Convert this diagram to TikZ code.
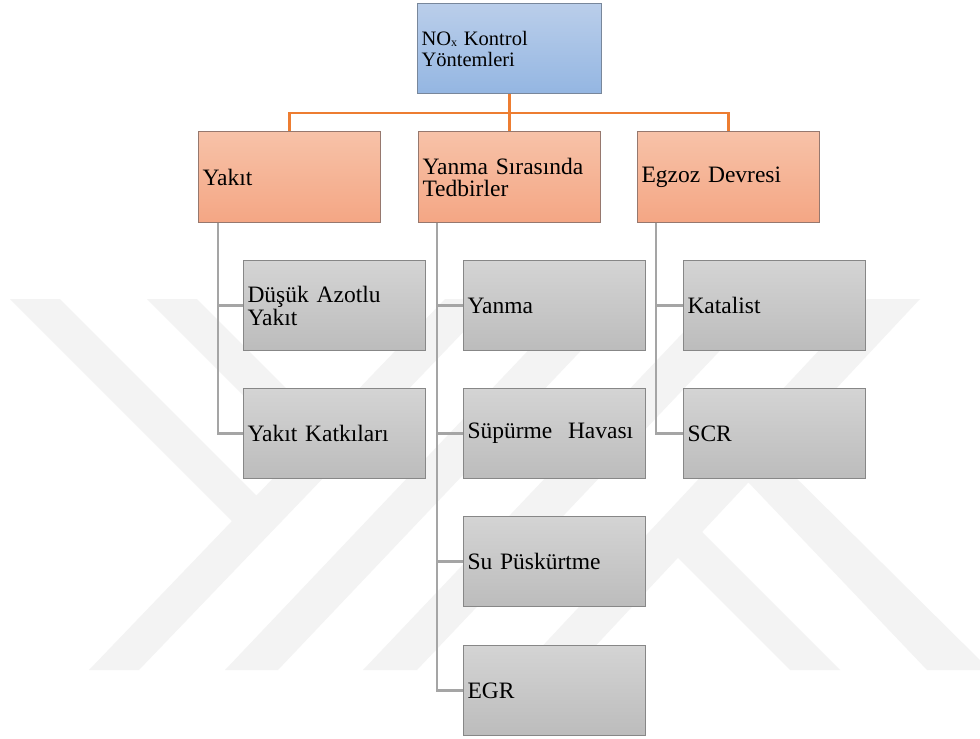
\documentclass[tikz,border=0pt]{standalone}
\usepackage{fontspec}
\setmainfont{Liberation Serif}
\usetikzlibrary{calc}
\definecolor{wm}{RGB}{243,243,243}
\definecolor{bluetop}{RGB}{186,206,234}
\definecolor{bluebot}{RGB}{148,182,226}
\definecolor{bluedraw}{RGB}{120,135,155}
\definecolor{ortop}{RGB}{247,194,168}
\definecolor{orbot}{RGB}{244,166,132}
\definecolor{ordraw}{RGB}{150,120,110}
\definecolor{grtop}{RGB}{212,212,212}
\definecolor{grbot}{RGB}{188,188,188}
\definecolor{grdraw}{RGB}{135,135,135}
\definecolor{orlinecol}{RGB}{237,125,49}
\definecolor{gylinecol}{RGB}{165,165,165}
\tikzset{
  box/.style={draw, line width=1pt, minimum height=90pt, inner xsep=4pt, inner ysep=0pt,
    text width=174pt, align=left, anchor=north west},
  rootbox/.style={box, text width=176pt, top color=bluetop, bottom color=bluebot, draw=bluedraw,
    font=\fontsize{20.5}{21}\selectfont},
  midbox/.style={box, minimum height=91pt, top color=ortop, bottom color=orbot, draw=ordraw,
    font=\fontsize{23.5}{22}\selectfont},
  leafbox/.style={box, top color=grtop, bottom color=grbot, draw=grdraw,
    font=\fontsize{23.5}{23}\selectfont},
  orl/.style={draw=orlinecol, line width=2.6pt},
  gyl/.style={draw=gylinecol, line width=2.6pt},
  wmark/.style={fill=wm, draw=none}
}
\newcommand{\subx}{\raisebox{-1.5pt}{\fontsize{12}{12}\selectfont x}}
\begin{document}
\begin{tikzpicture}[x=1pt,y=-1pt]
\useasboundingbox (0,0) rectangle (980,739);
\fill[white] (0,0) rectangle (980,739);
% watermark
\begin{scope}
\clip (0,0) rectangle (980,739);
\path[wmark] (10,299) -- (60,299) -- (282,521) -- (232,521) -- cycle;
\path[wmark] (147,299) -- (197,299) -- (349,451) -- (299,451) -- cycle;
\path[wmark] (89,670) -- (139,670) -- (495,299) -- (445,299) -- cycle;
\path[wmark] (225,670) -- (278,670) -- (630,299) -- (577,299) -- cycle;
\path[wmark] (363,670) -- (417,670) -- (769,299) -- (715,299) -- cycle;
\path[wmark] (520,670) -- (573,670) -- (920,299) -- (867,299) -- cycle;
\path[wmark] (790,670) -- (840,670) -- (702,532) -- (650,530) -- cycle;
\path[wmark] (927,670) -- (990,670) -- (774,456) -- (748,482) -- cycle;
\end{scope}
% nodes
\node[rootbox] (root) at (417,3) {NO\subx{} Kontrol\\Yöntemleri};
\node[midbox] (yakit) at (198,131) {Yakıt};
\node[midbox] (yanma) at (418,131) {Yanma Sırasında\\Tedbirler};
\node[midbox] (egzoz) at (637,131) {Egzoz Devresi};
\node[leafbox] (dusuk) at (243,260) {Düşük Azotlu\\Yakıt};
\node[leafbox] (katki) at (243,388) {Yakıt Katkıları};
\node[leafbox] (yanmaL) at (463,260) {Yanma};
\node[leafbox] (supurme) at (463,388) {Süpürme\ \ Havası};
\node[leafbox] (su) at (463,516) {Su Püskürtme};
\node[leafbox] (egr) at (463,645) {EGR};
\node[leafbox] (katalist) at (683,260) {Katalist};
\node[leafbox] (scr) at (683,388) {SCR};
% orange connectors
\draw[orl] (root.south) -- ++(0,19) -| (yakit.north);
\draw[orl] (root.south) -- (yanma.north);
\draw[orl] (root.south) -- ++(0,19) -| (egzoz.north);
% gray connectors
\coordinate (c1) at ($(yakit.south west)+(20,0)$);
\coordinate (c2) at ($(yanma.south west)+(19,0)$);
\coordinate (c3) at ($(egzoz.south west)+(19,0)$);
\draw[gyl] (c1) |- (dusuk.west);
\draw[gyl] (c1) |- (katki.west);
\draw[gyl] (c2) |- (yanmaL.west);
\draw[gyl] (c2) |- (supurme.west);
\draw[gyl] (c2) |- (su.west);
\draw[gyl] (c2) |- (egr.west);
\draw[gyl] (c3) |- (katalist.west);
\draw[gyl] (c3) |- (scr.west);
\end{tikzpicture}
\end{document}
